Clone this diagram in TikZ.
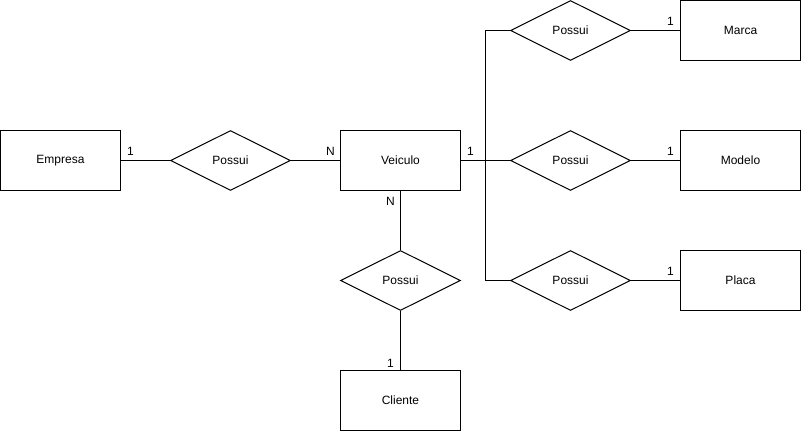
\documentclass[tikz,border=0pt]{standalone}
\usepackage{fontspec}
\setmainfont{Liberation Sans}
\usetikzlibrary{shapes}

\begin{document}
\begin{tikzpicture}[x=1pt, y=-1pt, font=\fontsize{12}{14}\selectfont, line width=1pt]
\tikzstyle{entityStyle}=[shape = rectangle, minimum width = 120pt, minimum height = 60pt, inner sep = 0pt, draw]
\tikzstyle{relationStyle}=[shape = diamond, aspect = 2, minimum width = 120pt, minimum height = 60pt, inner sep = 0pt, draw]
\tikzstyle{cardStyle}=[inner sep = 0pt, anchor = base]
\useasboundingbox (0,0) rectangle (801,431);
\node[entityStyle] (empresa) at (60.5,160.5) {Empresa};
\node[relationStyle] (possuiE) at (230.5,160.5) {Possui};
\node[entityStyle] (veiculo) at (400.5,160.5) {Veiculo};
\node[relationStyle] (possuiC) at (400.5,280.5) {Possui};
\node[entityStyle] (cliente) at (400.5,400.5) {Cliente};
\node[relationStyle] (possuiMa) at (570.5,30.5) {Possui};
\node[relationStyle] (possuiMo) at (570.5,160.5) {Possui};
\node[relationStyle] (possuiP) at (570.5,280.5) {Possui};
\node[entityStyle] (marca) at (740.5,30.5) {Marca};
\node[entityStyle] (modelo) at (740.5,160.5) {Modelo};
\node[entityStyle] (placa) at (740.5,280.5) {Placa};
\coordinate (j) at (485.5,160.5);
\draw (empresa) -- (possuiE);
\draw (possuiE) -- (veiculo);
\draw (veiculo) -- (possuiC);
\draw (possuiC) -- (cliente);
\draw (veiculo) -- (possuiMo);
\draw (j) |- (possuiMa);
\draw (j) |- (possuiP);
\draw (possuiMa) -- (marca);
\draw (possuiMo) -- (modelo);
\draw (possuiP) -- (placa);
% cardinalidades
\node[cardStyle] (cEmpresa) at (130.5,155.5) {1};
\node[cardStyle] (cVeiculoE) at (330.5,155.5) {N};
\node[cardStyle] (cVeiculoC) at (390.5,205) {N};
\node[cardStyle] (cCliente) at (390.5,367) {1};
\node[cardStyle] (cVeiculoR) at (470.5,155.5) {1};
\node[cardStyle] (cMarca) at (670.5,25.5) {1};
\node[cardStyle] (cModelo) at (670.5,155.5) {1};
\node[cardStyle] (cPlaca) at (670.5,275.5) {1};
\end{tikzpicture}
\end{document}
